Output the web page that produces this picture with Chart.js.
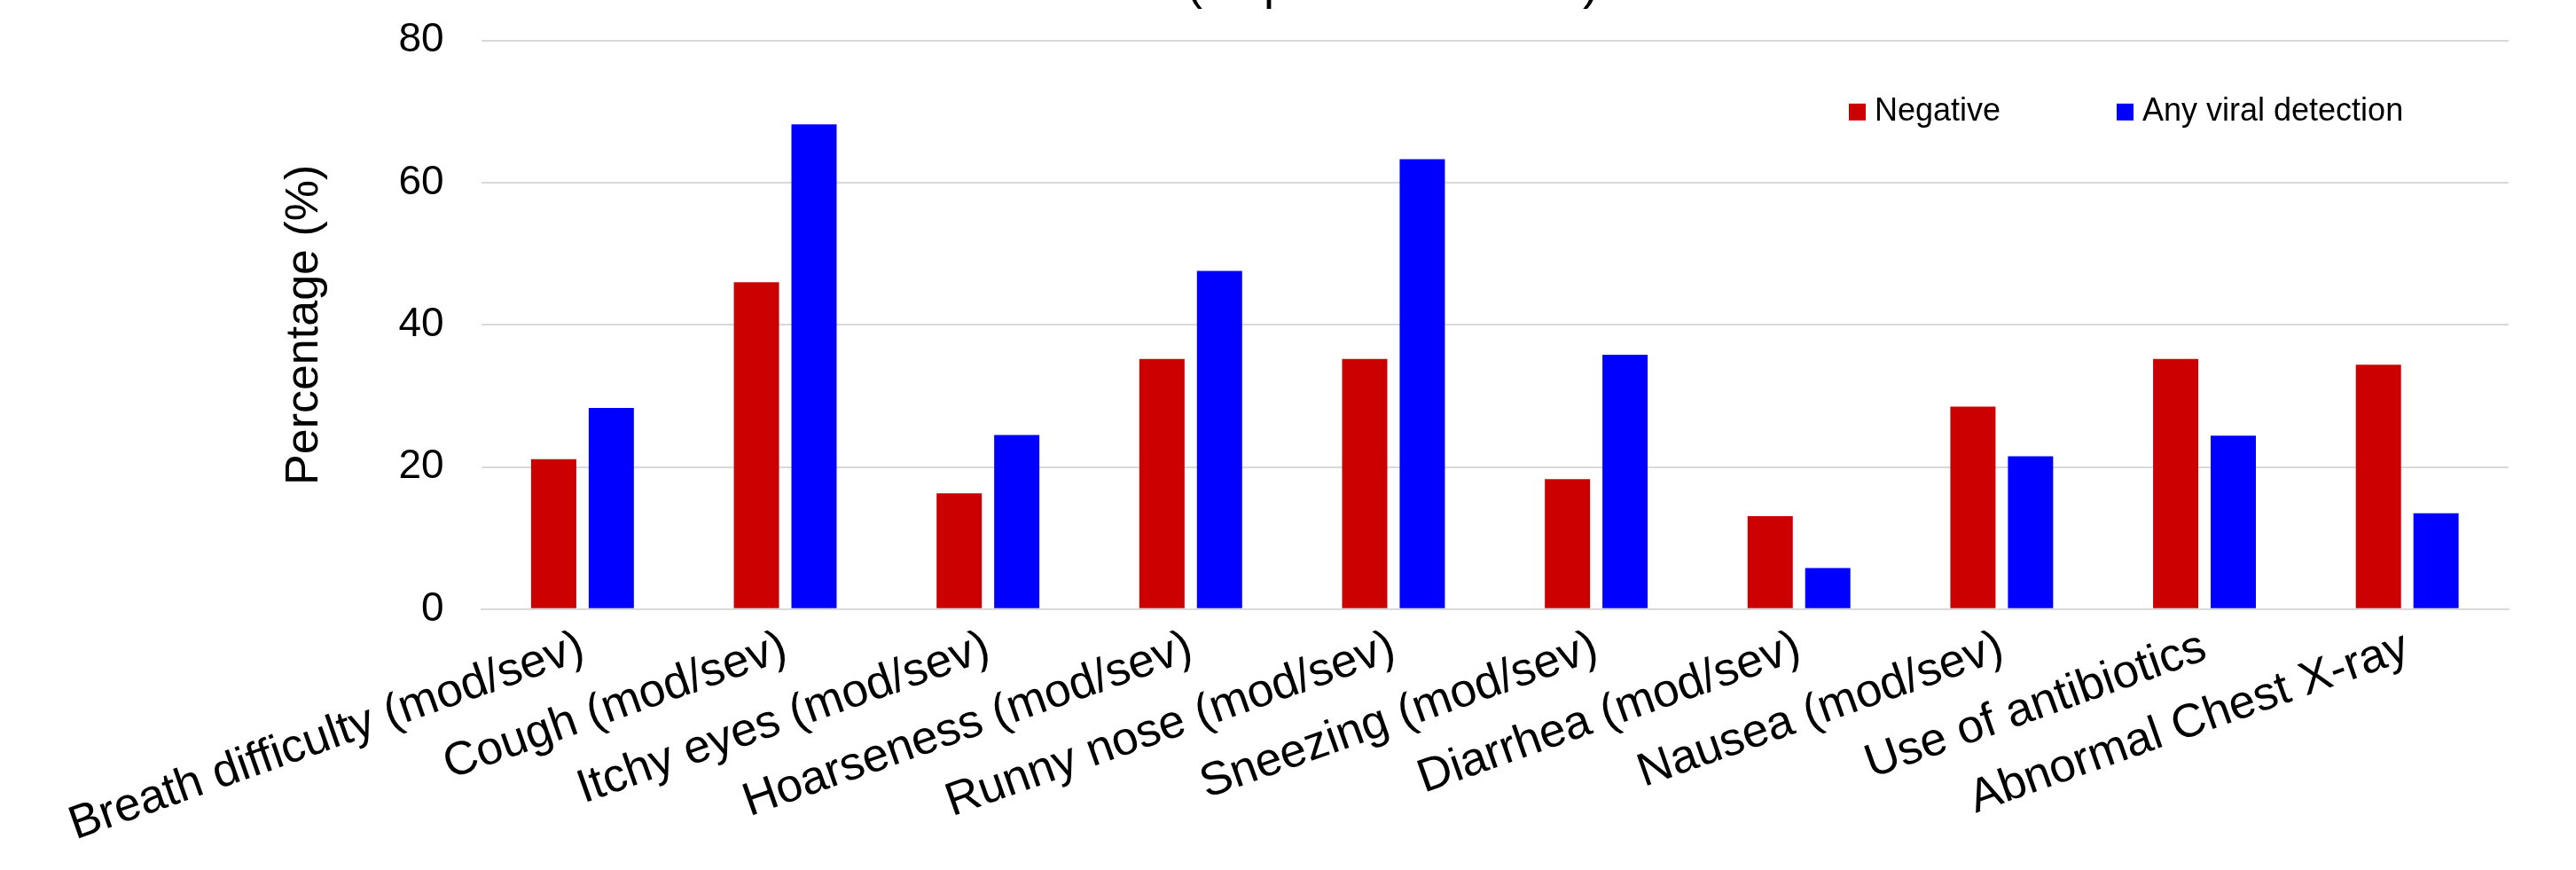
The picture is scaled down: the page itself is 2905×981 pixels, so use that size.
<!DOCTYPE html>
<html>
<head>
<meta charset="utf-8">
<script src="https://cdn.jsdelivr.net/npm/chart.js@4"></script>
<style>
  html, body { margin: 0; padding: 0; background: #fff; overflow: hidden; }
  /* o titulo fica cortado no topo, como no original */
  #wrap { width: 2905px; height: 1041px; margin-top: -60px; }
</style>
</head>
<body>
<div id="wrap"><canvas id="symptomChart"></canvas></div>
<script>
// categorias e valores
const symptoms = [
  'Breath difficulty (mod/sev)', 'Cough (mod/sev)', 'Itchy eyes (mod/sev)',
  'Hoarseness (mod/sev)', 'Runny nose (mod/sev)', 'Sneezing (mod/sev)',
  'Diarrhea (mod/sev)', 'Nausea (mod/sev)', 'Use of antibiotics', 'Abnormal Chest X-ray'
];
const negative = [21.1, 46.0, 16.3, 35.2, 35.2, 18.3, 13.1, 28.5, 35.2, 34.4];
const anyViral = [28.3, 68.2, 24.5, 47.6, 63.3, 35.8, 5.8, 21.5, 24.4, 13.5];
const yTicks = [0, 20, 40, 60, 80];
const seriesNames = ['Negative', 'Any viral detection'];
const chartTitle = '(all pediatric cases)';

const font = 'Arial, "Liberation Sans", sans-serif';

// legenda desenhada dentro da area do grafico
const insideLegend = {
  id: 'insideLegend',
  afterDraw(chart) {
    const ctx = chart.ctx;
    const top = chart.chartArea.top;
    const startX = [2085, 2387];
    ctx.save();
    ctx.font = '36px ' + font;
    ctx.textBaseline = 'middle';
    chart.data.datasets.forEach((ds, i) => {
      ctx.fillStyle = ds.backgroundColor;
      ctx.fillRect(startX[i], top + 71, 19, 19);
      ctx.fillStyle = '#000';
      ctx.fillText(ds.label, startX[i] + 29, top + 80);
    });
    ctx.restore();
  }
};

var ctx = document.getElementById('symptomChart').getContext('2d');
var mainChart = new Chart(ctx, {
  type: 'bar',
  data: {
    labels: symptoms,
    datasets: [{
      label: seriesNames[0],
      backgroundColor: '#cc0000',
      data: negative
    }, {
      label: seriesNames[1],
      backgroundColor: '#0000ff',
      data: anyViral
    }]
  },
  options: {
    responsive: true,
    maintainAspectRatio: false,
    animation: false,
    categoryPercentage: 0.568,
    barPercentage: 0.785,
    layout: { padding: { left: 312, right: 76, top: 0, bottom: 6 } },
    plugins: {
      legend: { display: false },
      tooltip: { enabled: false },
      title: {
        display: true,
        text: chartTitle,
        color: '#000',
        font: { family: font, size: 54, weight: 'normal' },
        padding: { top: 12, bottom: 29 }
      }
    },
    scales: {
      x: {
        grid: { display: false, drawTicks: false },
        border: { display: true, color: '#d9d9d9', width: 2 },
        ticks: {
          color: '#000',
          font: { family: font, size: 53 },
          minRotation: 19.5,
          maxRotation: 19.5,
          padding: 12,
          autoSkip: false
        }
      },
      y: {
        min: 0,
        max: 80,
        afterBuildTicks(scale) {
          scale.ticks = yTicks.map(v => ({ value: v }));
        },
        grid: { color: '#d9d9d9', lineWidth: 2, drawTicks: false },
        border: { display: false },
        ticks: {
          color: '#000',
          font: { family: font, size: 46 },
          padding: 42
        },
        title: {
          display: true,
          text: 'Percentage (%)',
          color: '#000',
          font: { family: font, size: 52 },
          padding: { top: 0, bottom: 33 }
        }
      }
    }
  },
  plugins: [insideLegend]
});
</script>
</body>
</html>
